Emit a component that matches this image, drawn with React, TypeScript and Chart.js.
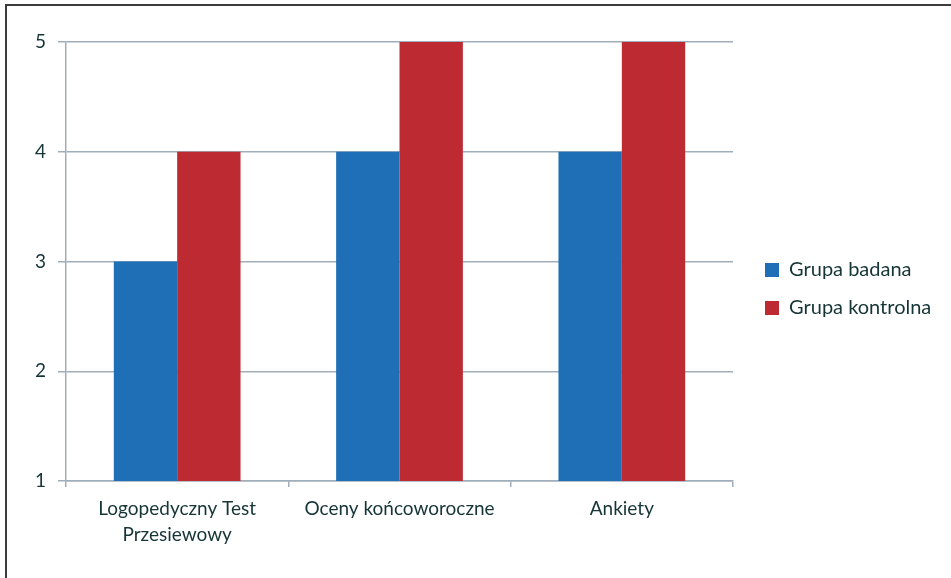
import React, { useEffect, useRef } from "react";
import { Chart, registerables } from "chart.js";

Chart.register(...registerables);

const categories: (string | string[])[] = [
  ["Logopedyczny Test", "Przesiewowy"],
  "Oceny końcoworoczne",
  "Ankiety",
];
const seriesNames = ["Grupa badana", "Grupa kontrolna"];
const grupaBadana = [3, 4, 4];
const grupaKontrolna = [4, 5, 5];
const yTicks = [1, 2, 3, 4, 5];

const TEXT = "#163537";
const GRID = "#9FAEBA";
const FONT = "Lato, 'Open Sans', sans-serif";

export default function App() {
  const ref = useRef<HTMLCanvasElement | null>(null);
  useEffect(() => {
    if (!ref.current) return;
    const legendWidth = 204;
    const chart = new Chart(ref.current, {
      type: "bar",
      data: {
        labels: categories,
        datasets: [
          { label: seriesNames[0], data: grupaBadana, backgroundColor: "#1F6FB6" },
          { label: seriesNames[1], data: grupaKontrolna, backgroundColor: "#BE2A32" },
        ],
      },
      plugins: [
        {
          id: "legendWidth",
          beforeInit(c: any) {
            const orig = c.legend.fit;
            c.legend.fit = function () {
              orig.bind(c.legend)();
              this.width = legendWidth;
            };
          },
        },
      ],
      options: {
        animation: false,
        responsive: false,
        devicePixelRatio: 1,
        layout: { padding: 0 },
        datasets: { bar: { categoryPercentage: 0.57, barPercentage: 1 } },
        plugins: {
          legend: {
            position: "right",
            align: "center",
            labels: {
              boxWidth: 14,
              boxHeight: 14,
              padding: 18,
              color: TEXT,
              font: { family: FONT, size: 20 },
            },
          },
          tooltip: { enabled: false },
        },
        scales: {
          x: {
            type: "category",
            offset: true,
            grid: {
              offset: true,
              drawOnChartArea: false,
              drawTicks: true,
              tickLength: 6,
              color: GRID,
              lineWidth: 1.5,
            },
            border: { display: true, color: GRID, width: 1.5 },
            ticks: {
              color: TEXT,
              font: { family: FONT, size: 19, lineHeight: 1.38 },
              padding: 9,
              maxRotation: 0,
              autoSkip: false,
            },
            afterFit(s: any) {
              s.height = 97;
            },
          },
          xTop: {
            type: "category",
            position: "top",
            display: true,
            grid: { display: false, drawTicks: false },
            border: { display: false },
            ticks: { display: false },
            afterFit(s: any) {
              s.height = 42;
            },
          },
          y: {
            type: "linear",
            min: 1,
            max: 5,
            afterBuildTicks(s: any) {
              s.ticks = yTicks.map((v) => ({ value: v }));
            },
            grid: {
              drawTicks: true,
              tickLength: 8,
              color: GRID,
              lineWidth: 1.5,
            },
            border: { display: true, color: GRID, width: 1.5 },
            ticks: {
              color: TEXT,
              font: { family: FONT, size: 19 },
              padding: 12,
            },
            afterFit(s: any) {
              s.width = 66;
            },
          },
          y2: {
            type: "linear",
            position: "right",
            display: true,
            grid: { display: false, drawTicks: false },
            border: { display: false },
            ticks: { display: false },
            afterFit(s: any) {
              s.width = 14;
            },
          },
        },
      } as any,
    });
    return () => chart.destroy();
  }, []);
  return (
    <div style={{ position: "absolute", left: 0, top: 0, width: 951, height: 578, background: "#fff" }}>
      <canvas ref={ref} width={951} height={578} style={{ display: "block" }} />
      <div
        style={{
          position: "absolute",
          left: 5,
          top: 4,
          width: 960,
          height: 600,
          borderLeft: "2px solid #3c3c3c",
          borderTop: "2px solid #3c3c3c",
          pointerEvents: "none",
          boxSizing: "border-box",
        }}
      />
    </div>
  );
}
